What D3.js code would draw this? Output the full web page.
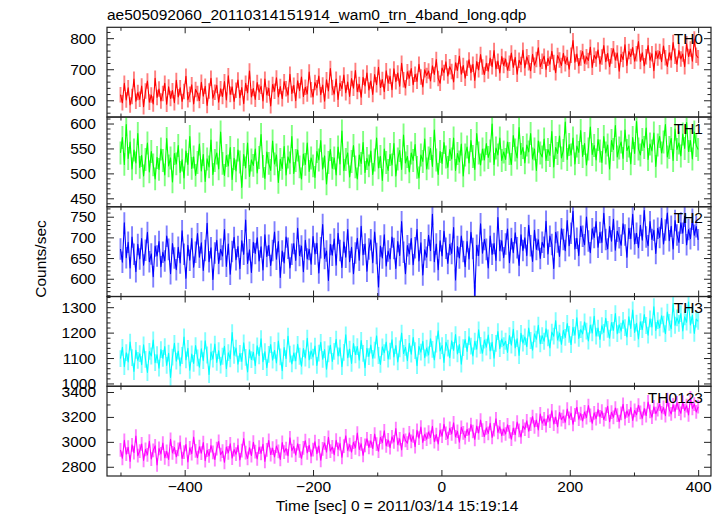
<!DOCTYPE html>
<html>
<head>
<meta charset="utf-8">
<script src="https://cdn.jsdelivr.net/npm/d3@7/dist/d3.min.js"></script>
<style>
  html, body { margin: 0; padding: 0; background: #fff; }
  svg { display: block; }
  text { font-family: "Liberation Sans", Arial, Helvetica, sans-serif; fill: #000; }
</style>
</head>
<body>
<svg id="chart" width="723" height="516"></svg>
<script>
// ---------------- data ----------------
const titleText = "ae505092060_20110314151914_wam0_trn_4band_long.qdp";
const xLabel = "Time [sec] 0 = 2011/03/14 15:19:14";
const yLabel = "Counts/sec";
const bandNames = ["TH0", "TH1", "TH2", "TH3", "TH0123"];
const bandColors = ["#ff0000", "#00ff00", "#0000ff", "#00ffff", "#ff00ff"];
const timeStart = -500;   // sec, first bin
const timeStep = 3;       // sec between samples
const xDomain = [-521, 420];
const xMajorTicks = [-400, -200, 0, 200, 400];
const xMinorTicks = [-500, -300, -100, 100, 300];
const yDomains = [[546, 835], [433, 613], [557, 774], [989, 1342], [2726, 3446]];
const yMajorTicks = [[600, 700, 800], [450, 500, 550, 600], [600, 650, 700, 750], [1000, 1100, 1200, 1300], [2800, 3000, 3200, 3400]];
const yMinorStep = [20, 10, 10, 20, 100];
const errHalf = [25, 23, 26, 33, 55];   // typical 1-sigma error bar (counts/sec)

const th0 = [
618,592,655,601,640,585,612,668,597,625,
603,646,579,630,662,594,617,588,671,609,
636,598,622,655,587,643,606,631,592,664,
611,640,596,628,677,602,619,650,588,635,
622,599,658,613,645,583,630,671,607,626,
648,594,637,612,660,601,679,619,643,596,
632,665,608,641,589,655,624,694,611,638,
603,657,626,645,598,668,617,639,582,651,
629,672,611,644,605,660,637,617,684,622,
648,599,663,631,675,612,642,620,691,634,
611,657,640,678,618,649,597,666,630,702,
641,620,668,603,655,637,681,624,659,612,
670,639,696,628,651,610,674,646,688,633,
662,619,683,650,706,641,667,628,695,655,
677,634,701,660,688,645,719,666,640,692,
671,702,650,684,661,716,675,643,698,680,
694,662,711,683,731,670,655,704,689,724,
678,708,693,659,721,696,742,684,712,671,
703,730,689,716,664,725,698,747,707,683,
719,694,736,708,760,701,726,688,741,712,
733,697,719,752,706,738,684,729,715,761,
704,740,721,695,748,713,731,769,708,726,
742,699,735,716,758,722,689,744,730,712,
751,718,738,700,745,792,723,749,711,736,
757,719,740,728,771,706,745,733,762,717,
739,776,724,751,708,743,766,729,752,694,
748,731,779,712,757,741,770,726,750,789,
725,753,711,740,776,729,750,695,758,736,
757,724,775,737,709,753,730,786,742,716,
760,733,749,708,782,741,765,726,797,745,
737];

const th1 = [
541,572,518,598,530,563,509,547,521,580,
512,536,495,528,561,503,544,517,489,532,
508,549,526,497,570,515,531,483,540,519,
556,502,527,491,545,518,574,510,533,496,
522,559,505,538,484,529,513,567,498,526,
541,509,583,520,496,536,515,552,488,530,
505,547,523,472,538,511,561,494,527,516,
549,501,532,578,514,490,543,520,506,565,
519,537,482,528,510,554,497,533,521,574,
500,526,547,513,489,539,518,561,504,531,
515,492,544,527,566,509,535,479,522,548,
510,531,497,553,519,585,506,528,541,493,
524,556,513,489,537,520,562,502,530,515,
545,498,527,571,511,534,486,549,522,506,
538,517,560,495,529,546,508,577,521,534,
503,541,526,558,512,491,537,524,569,509,
531,550,514,587,527,498,544,520,562,533,
512,548,529,571,506,540,523,559,495,537,
553,521,566,534,508,580,541,517,549,527,
560,532,545,599,518,551,537,571,526,543,
528,563,540,518,576,547,531,592,538,552,
521,557,543,580,529,549,506,565,541,533,
569,526,548,536,584,513,552,540,575,531,
546,603,528,558,537,571,519,555,542,586,
534,560,517,549,593,538,556,527,568,545,
522,574,541,557,509,566,548,596,533,551,
563,530,587,546,555,519,572,540,604,549,
537,568,552,591,528,559,545,581,514,557,
574,541,563,598,533,552,570,526,589,548,
561,535,579,550,602,544,566,529,583,556,
548];

const th2 = [
672,640,735,651,688,626,701,659,617,683,
648,697,633,669,712,641,660,605,679,655,
690,629,664,643,703,671,612,685,650,622,
676,638,716,659,601,681,645,697,628,664,
709,652,687,620,668,734,641,675,598,662,
693,637,671,655,719,630,684,611,666,700,
646,678,624,692,659,742,637,670,615,688,
661,699,643,677,621,706,654,681,632,668,
713,647,690,603,667,638,701,674,626,659,
685,644,722,656,679,617,693,648,671,635,
702,660,686,614,675,731,649,667,596,683,
657,696,633,710,668,627,689,652,719,641,
676,612,662,698,645,727,658,684,618,672,
694,639,713,661,580,679,650,706,631,667,
648,701,673,625,690,656,738,664,612,680,
660,697,634,675,719,643,687,609,670,652,
705,668,756,641,684,622,692,655,715,674,
637,683,661,724,597,678,650,703,666,629,
690,648,712,673,558,681,656,733,662,695,
671,626,703,659,685,644,748,668,692,651,
684,720,639,697,663,711,675,632,706,668,
699,656,729,680,642,717,671,694,649,688,
676,739,660,703,683,625,712,689,654,721,
695,668,741,680,710,763,672,698,656,727,
703,682,749,691,663,721,700,738,676,712,
688,758,695,672,726,691,744,669,715,699,
681,733,706,652,722,697,756,684,710,675,
729,693,765,701,680,738,695,717,661,722,
700,746,684,718,759,692,727,672,741,706,
688,735,710,751,682,719,697,744,705,726,
694];

const th3 = [
1098,1142,1066,1121,1085,1163,1102,1047,1130,1091,
1117,1074,1152,1095,1043,1126,1108,1171,1082,1113,
1060,1133,1099,1145,1071,1119,1024,1104,1158,1088,
1127,1069,1110,1183,1093,1138,1052,1116,1079,1149,
1101,1064,1136,1090,1168,1112,1035,1124,1096,1155,
1083,1129,1072,1107,1146,1058,1121,1097,1200,1111,
1139,1076,1118,1087,1160,1103,1045,1132,1094,1123,
1070,1148,1109,1176,1086,1125,1062,1114,1153,1092,
1130,1081,1167,1105,1050,1141,1098,1186,1115,1077,
1120,1089,1154,1107,1068,1137,1100,1178,1093,1128,
1104,1147,1071,1119,1162,1095,1133,1056,1116,1150,
1087,1126,1174,1108,1140,1066,1122,1191,1101,1135,
1079,1157,1113,1145,1092,1169,1118,1062,1138,1106,
1151,1099,1131,1187,1110,1075,1144,1121,1163,1096,
1127,1172,1104,1149,1085,1136,1198,1118,1142,1090,
1158,1115,1181,1129,1070,1146,1123,1166,1101,1139,
1112,1176,1134,1093,1155,1207,1128,1149,1083,1162,
1139,1101,1168,1130,1192,1116,1153,1076,1141,1173,
1126,1184,1147,1108,1166,1135,1211,1150,1119,1171,
1143,1190,1128,1162,1099,1158,1204,1137,1175,1149,
1166,1122,1188,1151,1213,1140,1176,1110,1197,1159,
1183,1145,1218,1169,1131,1195,1174,1229,1156,1188,
1166,1215,1179,1140,1202,1186,1247,1171,1198,1154,
1209,1181,1236,1193,1153,1221,1190,1258,1177,1212,
1195,1242,1206,1167,1230,1199,1264,1186,1218,1173,
1227,1201,1256,1213,1178,1240,1209,1275,1196,1231,
1206,1248,1220,1183,1262,1216,1289,1201,1237,1175,
1243,1212,1271,1228,1190,1254,1222,1302,1209,1247,
1219,1266,1233,1196,1281,1240,1215,1314,1229,1258,
1236,1275,1207,1262,1241,1320,1230,1268,1197,1253,
1244];

const th0123 = [
2935,2868,3012,2901,2957,2842,2976,2914,3047,2889,
2926,2983,2851,2940,2895,3005,2862,2931,2968,2815,
2947,2903,2990,2872,2924,2859,3021,2911,2955,2880,
2939,2996,2866,2918,2979,2838,2952,2905,3038,2927,
2873,2961,2910,2994,2849,2933,2887,2970,2916,2858,
2945,3003,2897,2925,2836,2959,2912,2984,2870,2938,
2901,2972,2855,2929,3026,2914,2867,2953,2890,2997,
2921,2863,2958,2907,2981,2843,2936,3011,2898,2950,
2879,2966,2924,2859,2995,2917,2946,2888,3032,2930,
2962,2894,2985,2927,2868,2951,3009,2912,2973,2884,
2938,3001,2905,2967,2852,2944,2991,2918,3036,2926,
2959,2897,3013,2940,2986,2876,2965,3048,2931,2978,
2918,2997,2952,3070,2939,2984,2892,2971,3024,2955,
3008,2946,3062,2981,2925,3037,2994,3089,2968,3015,
2953,3041,2999,3106,2977,3025,2936,3058,3012,2989,
3073,3004,3047,2961,3092,3030,3118,2995,3061,3021,
3079,3036,3124,3002,3058,2983,3095,3046,3141,3069,
3027,3109,3064,3153,3040,3085,2998,3117,3072,3034,
3101,3055,3138,3083,3019,3126,3071,3174,3094,3043,
3112,3068,3149,3035,3097,3185,3076,3121,3050,3103,
3063,3137,3081,3022,3110,3058,3159,3092,3039,3127,
3101,3168,3085,3142,3203,3119,3175,3096,3224,3150,
3184,3131,3212,3167,3249,3143,3199,3122,3236,3178,
3205,3157,3263,3189,3230,3141,3216,3278,3182,3227,
3168,3240,3194,3291,3213,3149,3233,3186,3259,3201,
3246,3179,3222,3286,3161,3238,3197,3271,3215,3162,
3229,3301,3187,3248,3206,3275,3171,3252,3218,3294,
3236,3189,3267,3211,3320,3244,3198,3281,3226,3259,
3303,3232,3276,3210,3339,3258,3224,3297,3245,3313,
3263,3229,3318,3251,3290,3216,3352,3268,3302,3240,
3282];

const seriesList = [th0, th1, th2, th3, th0123];

// ---------------- layout ----------------
const svg = d3.select("#chart");
const plotLeft = 107, plotRight = 711, plotTop = 27.3, plotBottom = 476;
const nPanels = seriesList.length;
const panelH = (plotBottom - plotTop) / nPanels;
const fontSize = 15.5;

const x = d3.scaleLinear().domain(xDomain).range([plotLeft, plotRight]);

const defs = svg.append("defs");

seriesList.forEach((vals, p) => {
  const top = plotTop + p * panelH;
  const bottom = top + panelH;
  const y = d3.scaleLinear().domain(yDomains[p]).range([bottom, top]);
  const g = svg.append("g");

  defs.append("clipPath").attr("id", "clip" + p)
    .append("rect").attr("x", plotLeft).attr("y", top)
    .attr("width", plotRight - plotLeft).attr("height", panelH);

  const data = vals.map((v, i) => ({ t: timeStart + i * timeStep, v }));
  const dg = g.append("g").attr("clip-path", `url(#clip${p})`);

  // error bars
  const e = errHalf[p];
  const errPath = data.map(d => `M${x(d.t)},${y(d.v - e)}V${y(d.v + e)}`).join("");
  dg.append("path").attr("d", errPath)
    .attr("stroke", bandColors[p]).attr("stroke-opacity", 0.5)
    .attr("stroke-width", 1.9).attr("fill", "none");

  // data line
  const line = d3.line().x(d => x(d.t)).y(d => y(d.v));
  dg.append("path").datum(data).attr("d", line)
    .attr("stroke", bandColors[p]).attr("stroke-width", 1.1)
    .attr("fill", "none").attr("stroke-linejoin", "round");

  // y ticks
  const [y0, y1] = yDomains[p];
  const minor = d3.range(Math.ceil(y0 / yMinorStep[p]) * yMinorStep[p], y1 + 0.001, yMinorStep[p])
    .filter(v => !yMajorTicks[p].includes(v));
  const axL = g.append("g").attr("transform", `translate(${plotLeft},0)`)
    .call(d3.axisLeft(y).tickValues(yMajorTicks[p]).tickSize(-7).tickPadding(11).tickFormat(d3.format("d")));
  axL.selectAll("text").attr("font-size", fontSize).style("font-family", '"Liberation Sans", Arial, sans-serif');
  g.append("g").attr("transform", `translate(${plotLeft},0)`)
    .call(d3.axisLeft(y).tickValues(minor).tickSize(-3.5).tickFormat(""));
  g.append("g").attr("transform", `translate(${plotRight},0)`)
    .call(d3.axisRight(y).tickValues(yMajorTicks[p]).tickSize(-7).tickFormat(""));
  g.append("g").attr("transform", `translate(${plotRight},0)`)
    .call(d3.axisRight(y).tickValues(minor).tickSize(-3.5).tickFormat(""));

  // x ticks top and bottom
  g.append("g").attr("transform", `translate(0,${top})`)
    .call(d3.axisTop(x).tickValues(xMajorTicks).tickSize(-6).tickFormat(""));
  g.append("g").attr("transform", `translate(0,${top})`)
    .call(d3.axisTop(x).tickValues(xMinorTicks).tickSize(-3.5).tickFormat(""));
  const axB = g.append("g").attr("transform", `translate(0,${bottom})`)
    .call(d3.axisBottom(x).tickValues(xMajorTicks).tickSize(-6)
      .tickPadding(5).tickFormat(p === nPanels - 1 ? d3.format("d") : ""));
  axB.selectAll("text").attr("font-size", fontSize).style("font-family", '"Liberation Sans", Arial, sans-serif');
  g.append("g").attr("transform", `translate(0,${bottom})`)
    .call(d3.axisBottom(x).tickValues(xMinorTicks).tickSize(-3.5).tickFormat(""));

  g.selectAll(".domain").remove();
  g.selectAll(".tick line").attr("stroke", "#222").attr("stroke-width", 1);

  // frame
  g.append("rect").attr("x", plotLeft).attr("y", top)
    .attr("width", plotRight - plotLeft).attr("height", panelH)
    .attr("fill", "none").attr("stroke", "#222").attr("stroke-width", 1.2);

  // panel label
  g.append("text").attr("x", 703).attr("y", top + 16.5)
    .attr("text-anchor", "end").attr("font-size", fontSize).text(bandNames[p]);
});

// title and axis labels
svg.append("text").attr("x", 107).attr("y", 20).attr("font-size", fontSize).text(titleText);
svg.append("text").attr("x", 397).attr("y", 511).attr("text-anchor", "middle")
  .attr("font-size", fontSize).text(xLabel);
svg.append("text").attr("transform", "translate(46,259) rotate(-90)")
  .attr("text-anchor", "middle").attr("font-size", fontSize).text(yLabel);
</script>
</body>
</html>
